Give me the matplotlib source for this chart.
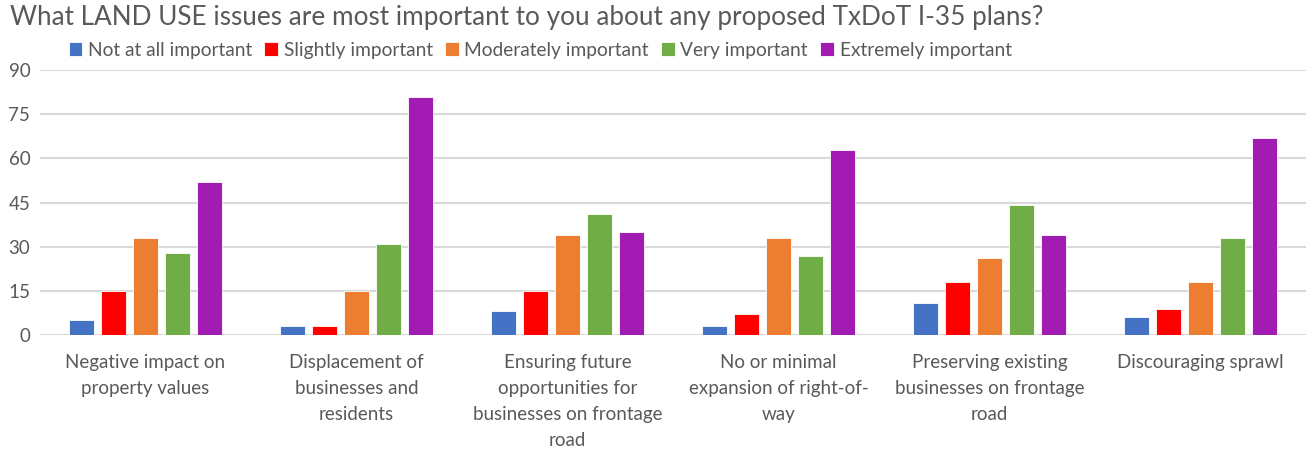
import numpy as np
import matplotlib.pyplot as plt

plt.rcParams['font.family'] = ['Lato', 'DejaVu Sans']

categories = [
    "Negative impact on\nproperty values",
    "Displacement of\nbusinesses and\nresidents",
    "Ensuring future\nopportunities for\nbusinesses on frontage\nroad",
    "No or minimal\nexpansion of right-of-\nway",
    "Preserving existing\nbusinesses on frontage\nroad",
    "Discouraging sprawl",
]
series_names = ["Not at all important", "Slightly important", "Moderately important",
                "Very important", "Extremely important"]
not_at_all = [5, 3, 8, 3, 11, 6]
slightly = [15, 3, 15, 7, 18, 9]
moderately = [33, 15, 34, 33, 26, 18]
very = [28, 31, 41, 27, 44, 33]
extremely = [52, 81, 35, 63, 34, 67]
colors = ["#4472C4", "#FF0000", "#ED7D31", "#70AD47", "#A21CB4"]

fig = plt.figure(figsize=(13.07, 4.55), dpi=100)
ax = fig.add_axes([0.0306, 0.2637, 0.9686, 0.5824])

x = np.arange(len(categories))
step = 0.152
width = 0.12
for i, (vals, name, c) in enumerate(zip([not_at_all, slightly, moderately, very, extremely],
                                         series_names, colors)):
    ax.bar(x + (i - 2) * step, vals, width, color=c, label=name, zorder=3,
           edgecolor='white', linewidth=0.6)

ax.set_xlim(-0.5, len(categories) - 0.5)
ax.set_ylim(0, 90)
ax.set_yticks(range(0, 91, 15))
ax.yaxis.grid(True, color='#D9D9D9', linewidth=1.5, zorder=0)
for s in ax.spines.values():
    s.set_visible(False)
ax.tick_params(axis='both', length=0, colors='#595959', labelsize=13.5)
ax.tick_params(axis='y', pad=7)
ax.set_xticks(x)
ax.set_xticklabels(categories, linespacing=1.62, fontsize=13.5, color='#595959')
ax.tick_params(axis='x', pad=14)

fig.text(0.008, 0.962, "What LAND USE issues are most important to you about any proposed TxDoT I-35 plans?",
         fontsize=18.8, color='#595959', va='center', ha='left')
ax.legend(loc='center', bbox_to_anchor=(0.395, 1.075), ncol=5, frameon=False,
          fontsize=13.8, labelcolor='#595959', handlelength=0.7, handleheight=0.7,
          handletextpad=0.3, columnspacing=0.65)

fig.savefig("out.png", dpi=100)
